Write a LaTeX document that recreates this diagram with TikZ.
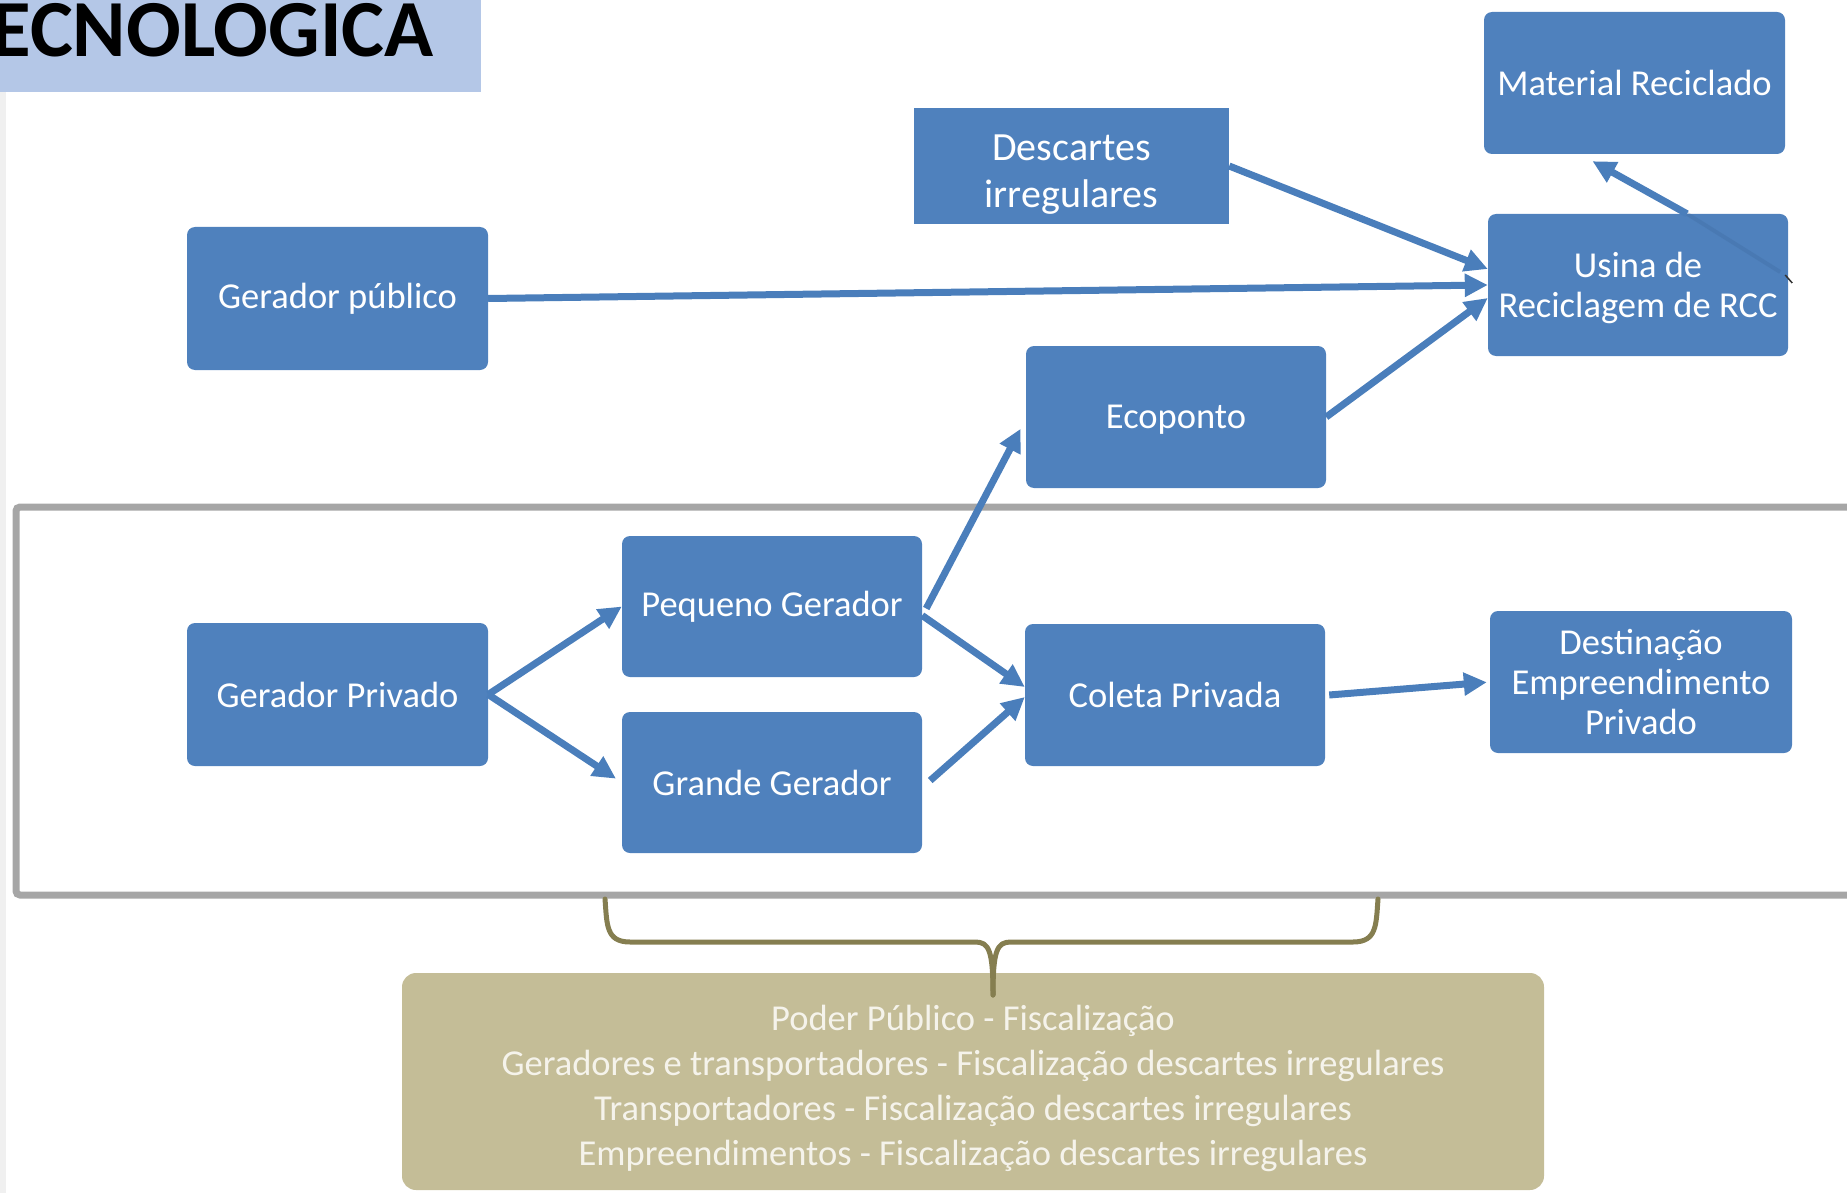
\documentclass[tikz,border=0pt]{standalone}
\usepackage{fontspec}
\setmainfont{Carlito}
\usetikzlibrary{arrows.meta}
\definecolor{boxblue}{HTML}{4F81BD}
\definecolor{arrblue}{HTML}{4A7EBB}
\definecolor{titlebg}{HTML}{B4C7E7}
\definecolor{framegray}{HTML}{A6A6A6}
\definecolor{tanbox}{HTML}{C4BD97}
\definecolor{braceol}{HTML}{857E50}
\definecolor{tantext}{HTML}{F5F3EB}
\definecolor{stripgray}{HTML}{F0F0F0}
\begin{document}
\begin{tikzpicture}[x=1pt,y=-1pt,
  box/.style={fill=boxblue, rounded corners=8pt, text=white, align=center,
    font=\fontsize{36.5}{40}\selectfont, inner sep=0pt},
  btext/.style={text=white, align=center, inner sep=0pt},
  arr/.style={draw=arrblue, line width=7pt, -{Triangle[length=23pt,width=22pt]}},
  brace/.style={draw=braceol, line width=5pt, line join=round, line cap=round}]
\useasboundingbox (0,0) rectangle (1847,1193);
\clip (0,0) rectangle (1847,1193);
% left strip and title
\fill[stripgray] (0,92) rectangle (6,1193);
\fill[titlebg] (0,0) rectangle (481,92);
\node[anchor=base east, inner sep=0pt, font=\bfseries\fontsize{81}{81}\selectfont] (title) at (434,57) {ECNOLÓGICA};
% frame
\draw[framegray, line width=7pt, rounded corners=4pt] (16,507) rectangle (1880,895);
% nodes
\node[box, minimum width=301pt, minimum height=142pt] (mat) at (1634.5,83) {Material Reciclado};
\node[box, minimum width=300pt, minimum height=142pt] (usina) at (1638,285) {};
\node[btext, font=\fontsize{36.5}{40}\selectfont] (usinatext) at ([yshift=-3pt]usina.center) {Usina de\\Reciclagem de RCC};
\node[box, rounded corners=0pt, minimum width=315pt, minimum height=116pt] (desc) at (1071.5,166) {};
\node[btext, font=\fontsize{40}{47}\selectfont] (desctext) at ([yshift=-9pt]desc.center) {Descartes\\irregulares};
\node[box, minimum width=301pt, minimum height=143pt] (gpub) at (337.5,298.5) {Gerador público};
\node[box, minimum width=300pt, minimum height=142pt] (eco) at (1176,417) {};
\node[btext, font=\fontsize{36.5}{40}\selectfont] (ecotext) at ([yshift=-3pt]eco.center) {Ecoponto};
\node[box, minimum width=300pt, minimum height=141pt] (peq) at (772,606.5) {Pequeno Gerador};
\node[box, minimum width=300pt, minimum height=141pt] (grande) at (772,782.5) {Grande Gerador};
\node[box, minimum width=301pt, minimum height=143pt] (gpriv) at (337.5,694.5) {Gerador Privado};
\node[box, minimum width=300pt, minimum height=142pt] (coleta) at (1175,695) {Coleta Privada};
\node[box, minimum width=302pt, minimum height=142pt] (dest) at (1641,682) {Destinação\\Empreendimento\\Privado};
% bottom box
\node[fill=tanbox, rounded corners=14pt, minimum width=1142pt, minimum height=217pt, inner sep=0pt] (fisc) at (973,1081.5) {};
\node[text=tantext, align=center, inner sep=0pt, font=\fontsize{36.5}{44.7}\selectfont] (fisctext) at ([yshift=-7pt]fisc.center)
  {Poder Público - Fiscalização\\Geradores e transportadores - Fiscalização descartes irregulares\\Transportadores - Fiscalização descartes irregulares\\Empreendimentos - Fiscalização descartes irregulares};
% brace
\draw[brace] (605,899) .. controls (607,925) and (606,942) .. (630,942) -- (975,942) .. controls (989,942) and (993,950) .. (993,995);
\draw[brace] (1378,899) .. controls (1376,925) and (1377,942) .. (1353,942) -- (1011,942) .. controls (997,942) and (993,950) .. (993,995);
% arrows
\draw[arr] (desc.east) -- ([yshift=16pt]usina.west);
\draw[arr] (gpub.east) -- (usina.west);
\draw[arr] (eco.east) -- ([yshift=-13pt]usina.west);
\draw[arrblue!80!black, line width=4pt, opacity=0.25] ([xshift=49pt]usina.north) -- ([xshift=-8pt,yshift=13pt]usina.east);
\draw[arr] ([xshift=49pt]usina.north) -- ([xshift=-42pt,yshift=-7pt]mat.south);
\draw[black!80, line width=1.5pt] ([xshift=-3pt,yshift=10pt]usina.east) -- ([xshift=4pt,yshift=2pt]usina.east);
\draw[arr] (gpriv.east) -- (peq.west);
\draw[arr, shorten >=7pt] (gpriv.east) -- (grande.west);
\draw[arr, shorten >=11pt] ([xshift=4pt,yshift=-2pt]peq.east) -- ([yshift=-2pt]eco.west);
\draw[arr] ([yshift=-9pt]peq.east) -- ([yshift=8pt]coleta.west);
\draw[arr] ([xshift=8pt,yshift=2pt]grande.east) -- ([yshift=-2pt]coleta.west);
\draw[arr, shorten >=3pt] ([xshift=4pt]coleta.east) -- (dest.west);
\end{tikzpicture}
\end{document}
